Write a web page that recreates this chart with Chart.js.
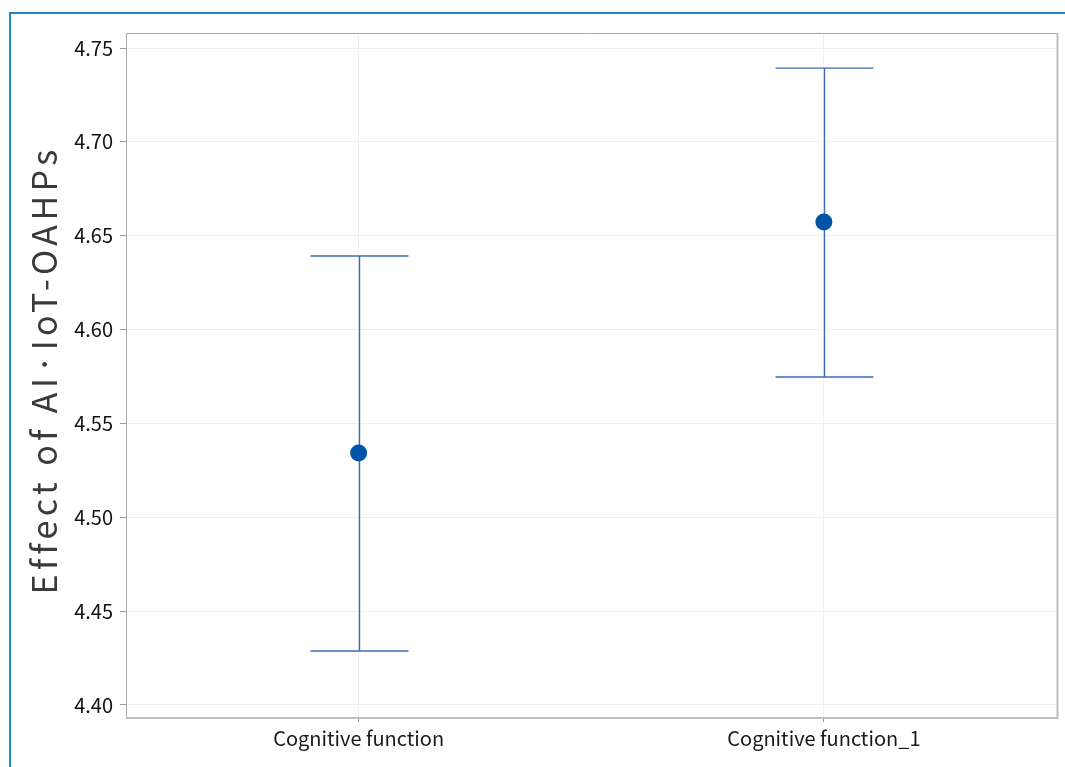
<!DOCTYPE html>
<html>
<head>
<meta charset="utf-8">
<script src="https://cdn.jsdelivr.net/npm/chart.js@4"></script>
<style>
  html, body { margin: 0; padding: 0; background: #fff; }
  #wrap { position: relative; width: 1065px; height: 767px; overflow: hidden; }
  #frame { position: absolute; left: 9px; top: 12px; width: 1200px; height: 900px;
           border-top: 2px solid #1c88c8; border-left: 2px solid #1c88c8; }
  #c { position: absolute; left: 0; top: 0; }
</style>
</head>
<body>
<div id="wrap">
  <div id="frame"></div>
  <canvas id="c" width="1065" height="767"></canvas>
</div>
<script>
// Group labels and interval estimates
const categories = ['Cognitive function', 'Cognitive function_1'];
const means = [4.5342, 4.6573];
const lowerBounds = [4.4288, 4.5747];
const upperBounds = [4.6392, 4.7393];
const yTickValues = [4.40, 4.45, 4.50, 4.55, 4.60, 4.65, 4.70, 4.75];
const yAxisTitle = 'Effect of AI·IoT-OAHPs';

const FONT = '"Noto Sans CJK KR", "Noto Sans", sans-serif';

// Vertical interval lines with end caps, placed through the chart scales
const intervalBars = {
  id: 'intervalBars',
  beforeDatasetsDraw(chart) {
    const { ctx, scales: { x, y } } = chart;
    const capHalf = 49;
    ctx.save();
    ctx.strokeStyle = '#3d6db4';
    ctx.lineWidth = 1.4;
    categories.forEach((_, i) => {
      const px = Math.round(x.getPixelForValue(i)) + 0.5;
      const yLo = y.getPixelForValue(lowerBounds[i]);
      const yHi = y.getPixelForValue(upperBounds[i]);
      ctx.beginPath();
      ctx.moveTo(px, yHi);
      ctx.lineTo(px, yLo);
      ctx.moveTo(px - capHalf, yHi);
      ctx.lineTo(px + capHalf, yHi);
      ctx.moveTo(px - capHalf, yLo);
      ctx.lineTo(px + capHalf, yLo);
      ctx.stroke();
    });
    ctx.restore();
  }
};

// Gray box around the plotting area
const plotFrame = {
  id: 'plotFrame',
  afterDraw(chart) {
    const { ctx, chartArea: a } = chart;
    ctx.save();
    ctx.strokeStyle = '#bdbdbd';
    ctx.lineWidth = 2;
    ctx.beginPath();
    ctx.moveTo(a.right + 1, a.top);
    ctx.lineTo(a.right + 1, a.bottom + 1);
    ctx.lineTo(a.left, a.bottom + 1);
    ctx.stroke();
    ctx.strokeStyle = '#a9a9a9';
    ctx.lineWidth = 1;
    ctx.beginPath();
    ctx.moveTo(a.left + 0.5, a.bottom);
    ctx.lineTo(a.left + 0.5, a.top + 0.5);
    ctx.lineTo(a.right, a.top + 0.5);
    ctx.stroke();
    ctx.restore();
  }
};

// Rotated y-axis caption with wider letter spacing
const yCaption = {
  id: 'yCaption',
  afterDraw(chart) {
    const { ctx, chartArea: a } = chart;
    ctx.save();
    ctx.translate(44, (a.top + a.bottom) / 2 - 3);
    ctx.rotate(-Math.PI / 2);
    ctx.font = '34px ' + FONT;
    ctx.letterSpacing = '4.4px';
    ctx.fillStyle = '#3a3a3a';
    ctx.textAlign = 'center';
    ctx.textBaseline = 'middle';
    ctx.fillText(yAxisTitle, 2, 0);
    ctx.restore();
  }
};

new Chart(document.getElementById('c'), {
  type: 'line',
  data: {
    labels: categories,
    datasets: [{
      data: means,
      showLine: false,
      pointRadius: 8.5,
      pointHoverRadius: 8.5,
      pointBackgroundColor: '#0054a6',
      pointBorderColor: '#0054a6',
      pointBorderWidth: 0
    }]
  },
  options: {
    responsive: false,
    animation: false,
    events: [],
    layout: { padding: { left: 0, top: 33, right: 6, bottom: 0 } },
    plugins: { legend: { display: false }, tooltip: { enabled: false } },
    scales: {
      x: {
        type: 'category',
        offset: true,
        border: { display: false },
        grid: { color: '#efefef', tickColor: '#9a9a9a', tickLength: 5, drawOnChartArea: true },
        ticks: { color: '#1a1a1a', font: { family: FONT, size: 20 }, padding: 4, maxRotation: 0 },
        afterFit(s) { s.height = 50; }
      },
      y: {
        min: 4.3936,
        max: 4.758,
        border: { display: false },
        grid: { color: '#efefef', tickColor: '#9a9a9a', tickLength: 6 },
        afterBuildTicks(s) { s.ticks = yTickValues.map(v => ({ value: v })); },
        ticks: {
          color: '#111111',
          font: { family: FONT, size: 20 },
          padding: 7,
          callback: v => Number(v).toFixed(2)
        },
        afterFit(s) { s.width = 126; }
      }
    }
  },
  plugins: [intervalBars, plotFrame, yCaption]
});
</script>
</body>
</html>
